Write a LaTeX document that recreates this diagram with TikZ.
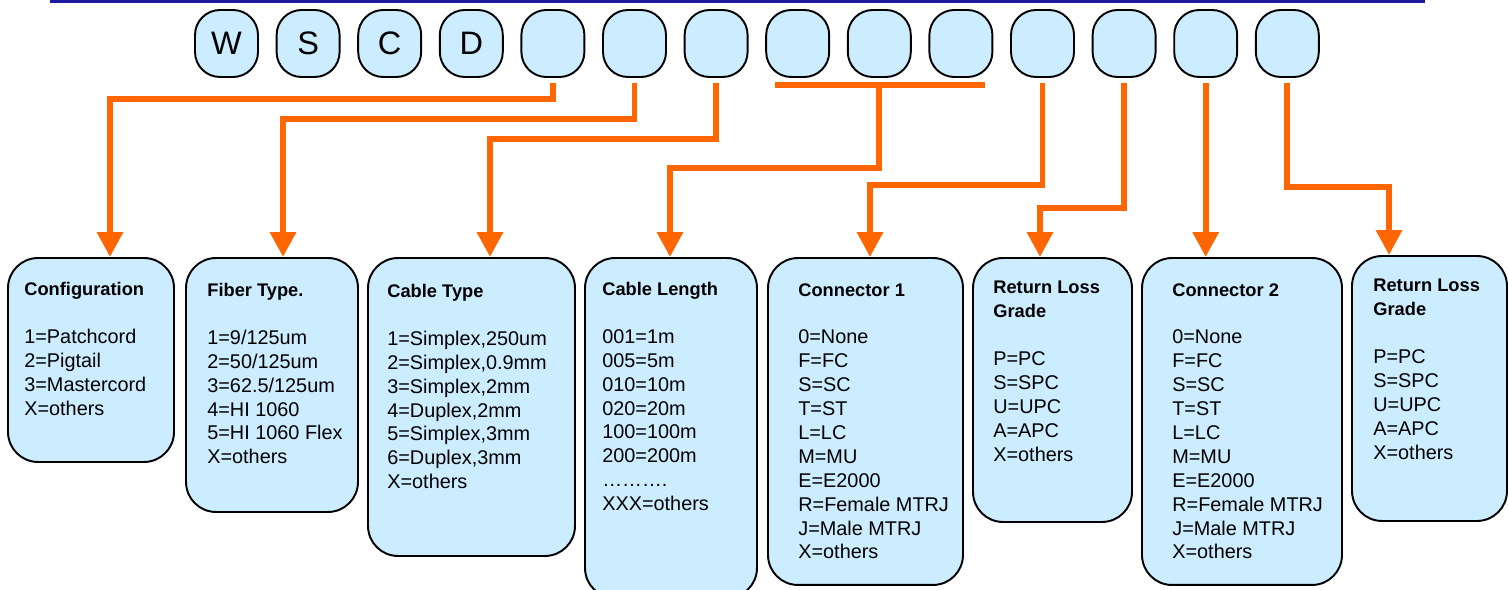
\documentclass[tikz,border=0pt]{standalone}
\usepackage{fontspec}
\setmainfont{Liberation Sans}
\usetikzlibrary{arrows.meta}
\definecolor{boxblue}{RGB}{204,236,255}
\definecolor{wireorange}{RGB}{255,102,0}
\definecolor{rulerblue}{RGB}{28,28,160}
\newcommand{\boxtitle}[1]{{\fontsize{10.4}{13.6}\selectfont\bfseries #1}}

\begin{document}
\begin{tikzpicture}[x=0.02cm,y=-0.02cm,
  letterbox/.style={shape=rectangle,rounded corners=0.5cm,draw=black,fill=boxblue,line width=1.1pt,minimum width=1.26cm,minimum height=1.34cm,inner sep=0pt,font=\fontsize{18.5}{20}\selectfont},
  codebox/.style={shape=rectangle,rounded corners=0.6cm,draw=black,fill=boxblue,line width=1.1pt,inner sep=0pt},
  codetext/.style={anchor=north west,align=left,inner sep=0pt,font=\fontsize{11.3}{13.6}\selectfont},
  wire/.style={draw=wireorange,line width=3.4pt,-{Triangle[width=0.5cm,length=0.5cm]}}]
\clip (0,0) rectangle (1508,590);
\draw[rulerblue,line width=1.7pt] (50,1.5) -- (1425,1.5);

\node[letterbox] (c1) at (226.5,43.5) {W};
\node[letterbox] (c2) at (308.1,43.5) {S};
\node[letterbox] (c3) at (389.7,43.5) {C};
\node[letterbox] (c4) at (471.3,43.5) {D};
\node[letterbox] (c5) at (552.9,43.5) {};
\node[letterbox] (c6) at (634.5,43.5) {};
\node[letterbox] (c7) at (716.1,43.5) {};
\node[letterbox] (c8) at (797.7,43.5) {};
\node[letterbox] (c9) at (879.3,43.5) {};
\node[letterbox] (c10) at (960.9,43.5) {};
\node[letterbox] (c11) at (1042.5,43.5) {};
\node[letterbox] (c12) at (1124.1,43.5) {};
\node[letterbox] (c13) at (1205.7,43.5) {};
\node[letterbox] (c14) at (1287.3,43.5) {};

\node[codebox,minimum width=3.32cm,minimum height=4.08cm] (cfg) at (91,360) {};
\node[codebox,minimum width=3.44cm,minimum height=5.08cm] (fib) at (272,385) {};
\node[codebox,minimum width=4.14cm,minimum height=5.96cm] (cab) at (471.5,407) {};
\node[codebox,minimum width=3.44cm,minimum height=6.8cm] (len) at (671,428) {};
\node[codebox,minimum width=3.9cm,minimum height=6.54cm] (con1) at (865.5,421.5) {};
\node[codebox,minimum width=3.18cm,minimum height=5.28cm] (rl1) at (1052.5,390) {};
\node[codebox,minimum width=4.0cm,minimum height=6.54cm] (con2) at (1242,421.5) {};
\node[codebox,minimum width=3.1cm,minimum height=5.3cm] (rl2) at (1429.5,388.5) {};

\node[codetext] (cfgtext) at (24,282) {\boxtitle{Configuration}\\[13.6pt]
  1=Patchcord\\2=Pigtail\\3=Mastercord\\X=others};
\node[codetext] (fibtext) at (207,283) {\boxtitle{Fiber Type.}\\[13.6pt]
  1=9/125um\\2=50/125um\\3=62.5/125um\\4=HI 1060\\5=HI 1060 Flex\\X=others};
\node[codetext] (cabtext) at (387,284) {\boxtitle{Cable Type}\\[13.6pt]
  1=Simplex,250um\\2=Simplex,0.9mm\\3=Simplex,2mm\\4=Duplex,2mm\\5=Simplex,3mm\\6=Duplex,3mm\\X=others};
\node[codetext] (lentext) at (602,282) {\boxtitle{Cable Length}\\[13.6pt]
  001=1m\\005=5m\\010=10m\\020=20m\\100=100m\\200=200m\\……….\\XXX=others};
\node[codetext] (con1text) at (798,283) {\boxtitle{Connector 1}\\[13.6pt]
  0=None\\F=FC\\S=SC\\T=ST\\L=LC\\M=MU\\E=E2000\\R=Female MTRJ\\J=Male MTRJ\\X=others};
\node[codetext] (rl1text) at (993,281) {\boxtitle{Return Loss}\\\boxtitle{Grade}\\[13.6pt]
  P=PC\\S=SPC\\U=UPC\\A=APC\\X=others};
\node[codetext] (con2text) at (1172,283) {\boxtitle{Connector 2}\\[13.6pt]
  0=None\\F=FC\\S=SC\\T=ST\\L=LC\\M=MU\\E=E2000\\R=Female MTRJ\\J=Male MTRJ\\X=others};
\node[codetext] (rl2text) at (1373,279) {\boxtitle{Return Loss}\\\boxtitle{Grade}\\[13.6pt]
  P=PC\\S=SPC\\U=UPC\\A=APC\\X=others};

% connectors from the code letters down to the tables
\draw[wire] ([yshift=-0.1cm]c5.south) -- ++(0,16) -| ([xshift=0.38cm]cfg.north);
\draw[wire] ([yshift=-0.1cm]c6.south) -- ++(0,36) -| ([xshift=0.22cm]fib.north);
\draw[wire] ([yshift=-0.1cm]c7.south) -- ++(0,56) -| ([xshift=0.37cm]cab.north);
\coordinate (brkl) at (775,85);
\coordinate (brkr) at (985,85);
\coordinate (brk) at (c9.south |- brkl);
\draw[wire,-] (brkl) -- (brkr);
\draw[wire] (brk) -- ++(0,83) -| ([xshift=-0.02cm]len.north);
\draw[wire] ([yshift=-0.1cm]c11.south) -- ++(0,102) -| ([xshift=0.09cm]con1.north);
\draw[wire] ([yshift=-0.1cm]c12.south) -- ++(0,125) -| ([xshift=-0.25cm]rl1.north);
\draw[wire] ([yshift=-0.1cm]c13.south) -- (c13.south |- con2.north);
\draw[wire] ([yshift=-0.1cm]c14.south) -- ++(0,104) -| ([xshift=-0.81cm]rl2.north);
\end{tikzpicture}
\end{document}
